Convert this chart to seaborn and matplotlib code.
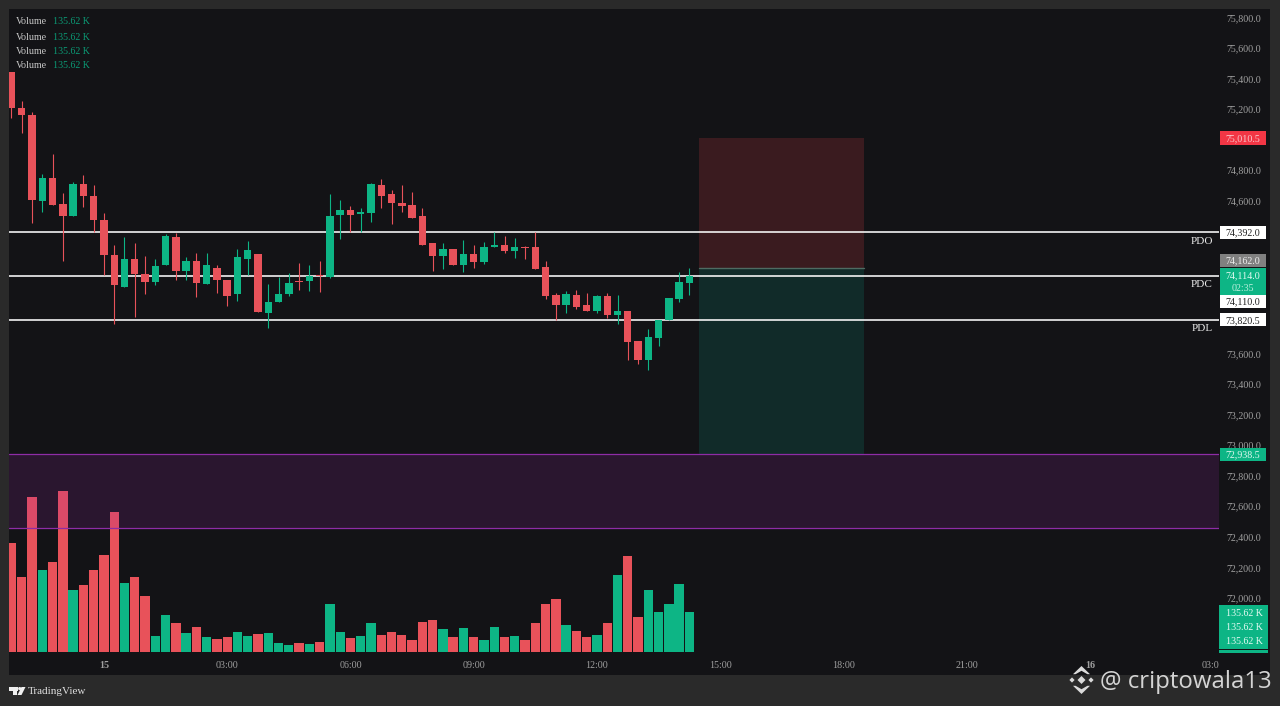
import matplotlib
matplotlib.use('Agg')
import matplotlib.pyplot as plt
import numpy as np
import pandas as pd
import seaborn as sns
from matplotlib.patches import Rectangle, Polygon, Circle

# 15 minute candles
opens = [75440, 75206, 75163, 74600, 74746, 74576, 74499, 74707, 74630, 74473, 74244, 74032, 74216, 74122, 74069, 74181, 74362,
         74139, 74207, 74052, 74161, 74082, 73989, 74218, 74248, 73862, 73936, 73989, 74071, 74076, 74111, 74100, 74506, 74541,
         74514, 74519, 74706, 74645, 74588, 74573, 74497, 74322, 74237, 74287, 74178, 74252, 74196, 74294, 74307, 74272, 74300,
         74296, 74165, 73980, 73916, 73980, 73916, 73879, 73975, 73849, 73877, 73681, 73558, 73702, 73816, 73956, 74058]
highs = [75440, 75252, 75180, 74772, 74907, 74650, 74722, 74770, 74700, 74519, 74307, 74362, 74322, 74235, 74220, 74384, 74388,
         74231, 74257, 74257, 74176, 74082, 74285, 74338, 74248, 74056, 74100, 74128, 74191, 74181, 74205, 74641, 74602, 74563,
         74554, 74715, 74743, 74671, 74706, 74654, 74554, 74322, 74322, 74287, 74340, 74309, 74329, 74396, 74368, 74357, 74305,
         74392, 74204, 73995, 74012, 74017, 73995, 73980, 73995, 73984, 73877, 73681, 73761, 73820, 73960, 74132, 74161]
lows = [75143, 75043, 74456, 74525, 74573, 74202, 74499, 74558, 74392, 74111, 73794, 74032, 73838, 73986, 74045, 74181, 74078,
        74082, 73969, 74052, 73997, 73908, 73943, 74111, 73873, 73768, 73936, 73973, 74013, 74008, 74002, 74095, 74351, 74392,
        74392, 74460, 74549, 74449, 74525, 74490, 74307, 74139, 74154, 74178, 74130, 74161, 74187, 74294, 74259, 74224, 74217,
        74156, 73956, 73822, 73868, 73890, 73879, 73866, 73829, 73794, 73554, 73528, 73489, 73646, 73816, 73936, 73980]
closes = [75204, 75158, 74604, 74746, 74573, 74499, 74707, 74628, 74471, 74244, 74047, 74216, 74117, 74069, 74170, 74366, 74139,
          74207, 74061, 74181, 74080, 73975, 74233, 74274, 73873, 73938, 73991, 74063, 74067, 74104, 74104, 74501, 74541, 74506,
          74523, 74709, 74634, 74588, 74567, 74490, 74307, 74235, 74281, 74178, 74252, 74196, 74300, 74307, 74272, 74300, 74289,
          74156, 73973, 73916, 73988, 73905, 73879, 73975, 73849, 73877, 73676, 73558, 73707, 73816, 73960, 74065, 74104]
volumes = [365.8, 253.4, 521.6, 275.9, 301.8, 540.8, 208.6, 224.4, 274.9, 325.4, 470.1, 231.2, 251.4, 188.4, 54.8, 125.5, 98.6,
           62.9, 83.1, 51.5, 43.7, 49.5, 66.3, 53.8, 59.6, 63.9, 30.3, 22.5, 30.3, 26.9, 32.6, 160.5, 66.3, 46.1,
           53.8, 97.6, 58.2, 67.3, 56.2, 41.4, 102.0, 108.7, 78.4, 51.5, 81.8, 51.5, 41.4, 85.1, 51.5, 54.8, 39.4,
           97.6, 161.5, 179.4, 91.9, 69.7, 51.5, 56.2, 97.6, 258.1, 322.0, 117.8, 207.6, 135.6, 161.5, 229.8, 135.6]

# the labels 75,000 74,400 74,200 74,000 and 73,800 sit behind price tags in the reference
price_ticks = [72000, 72200, 72400, 72600, 72800, 73000, 73200, 73400, 73600, 74600, 74800, 75200, 75400, 75600, 75800]
time_ticks = [9, 21, 33, 45, 57, 69, 81, 93, 105, 116.7]
time_labels = ['15', '03:00', '06:00', '09:00', '12:00', '15:00', '18:00', '21:00', '16', '03:0']
date_labels = ['15', '16']

pdo, pdc, pdl = 74392.0, 74110.0, 73820.5
zone_top, zone_bottom = 72938.5, 72455.0
stop_price, entry_price = 75010.5, 74162.0
box_start, box_end = 66.9, 83.0

RED = '#E8525A'
GREEN = '#0DB585'
PANEL = '#131316'
OUTER = '#2A2A2A'
SERIF = 'Liberation Serif'

sns.set_theme(style='dark', rc={'axes.facecolor': PANEL, 'figure.facecolor': OUTER, 'axes.linewidth': 0})

df = pd.DataFrame({'bar': np.arange(len(opens)), 'open': opens, 'high': highs, 'low': lows, 'close': closes, 'volume': volumes})
df['side'] = np.where(df['close'] >= df['open'], 'up', 'down')

fig = plt.figure(figsize=(12.8, 7.06), dpi=100)

def pane(x0, y0, x1, y1):
    return [x0 / 1280, 1 - y1 / 706, (x1 - x0) / 1280, (y1 - y0) / 706]

back = fig.add_axes(pane(9, 9, 1270, 675), zorder=0)
back.set_axis_off()
back.add_patch(Rectangle((0, 0), 1, 1, transform=back.transAxes, color=PANEL))

# volume sits under everything else
ax_vol = fig.add_axes(pane(9, 9, 1219, 653), zorder=1)
sns.barplot(data=df, x='bar', y='volume', hue='side', palette={'up': GREEN, 'down': RED}, dodge=False,
            width=0.91, saturation=1, legend=False, linewidth=0, ax=ax_vol)
ax_vol.set_xlim(-0.243, 117.56)
ax_vol.set_ylim(-3.4, 2160)
ax_vol.set_xticks([])
ax_vol.set_yticks([])
ax_vol.set_xlabel('')
ax_vol.set_ylabel('')
sns.despine(ax=ax_vol, left=True, bottom=True)

ax = fig.add_axes(pane(9, 9, 1219, 653), zorder=2)
ax.patch.set_visible(False)
ax.set_xlim(-0.243, 117.56)
ax.set_ylim(71639, 75855)
sns.despine(ax=ax, left=True, bottom=True)

# purple zone, tints the volume bars below it
ax.axhspan(zone_bottom, zone_top, color='#9C27B0', alpha=0.17, lw=0, zorder=1)
ax.axhline(zone_top, color='#8E2CA6', lw=0.9, zorder=2)
ax.axhline(zone_bottom, color='#8E2CA6', lw=0.9, zorder=2)

# long position box
ax.add_patch(Rectangle((box_start, entry_price), box_end - box_start, stop_price - entry_price, color='#3A1B1F', lw=0, zorder=1))
ax.add_patch(Rectangle((box_start, zone_top), box_end - box_start, entry_price - zone_top, color='#112B29', lw=0, zorder=1))
ax.plot([box_start, box_end], [entry_price, entry_price], color='#4F6B62', lw=1, zorder=1.5)

for level in [pdo, pdc, pdl]:
    ax.axhline(level, color='#F2F2F2', lw=1.2, zorder=2)
for level, name in [(pdo, 'PDO'), (pdc, 'PDC'), (pdl, 'PDL')]:
    ax.text(0.995, level - 60, name, transform=ax.get_yaxis_transform(), ha='right', va='center',
            color='#EDEDED', fontsize=8, family=SERIF)

colors = df['side'].map({'up': GREEN, 'down': RED})
ax.vlines(df['bar'], df['low'], df['high'], colors=colors, lw=0.8, zorder=3)
ax.bar(df['bar'], (df['close'] - df['open']).abs().clip(lower=10), bottom=df[['open', 'close']].min(axis=1),
       width=0.72, color=colors, lw=0, zorder=4)

ax.yaxis.tick_right()
ax.set_yticks(price_ticks)
ax.set_yticklabels([f'{p:,.1f}' for p in price_ticks], family=SERIF, fontsize=7.2, color='#A0A0A0')
ax.set_xticks(time_ticks)
ax.set_xticklabels(time_labels, family=SERIF, fontsize=7.2, color='#A0A0A0')
for lab in ax.get_xticklabels():
    if lab.get_text() in date_labels:
        lab.set_fontweight('bold')
ax.tick_params(axis='y', length=0, pad=5)
ax.tick_params(axis='x', length=0, pad=6)

# price tags on the right scale, moved apart where they would collide, as TradingView does
def tag(center, height, bg, text=None, fg='#202020', text_price=None, right=1.0388):
    trans = ax.get_yaxis_transform()
    ax.add_patch(Rectangle((1.0008, center - height / 2), right - 1.0008, height, transform=trans,
                           facecolor=bg, lw=0, clip_on=False, zorder=6))
    if text:
        ax.text(1.0198, (center if text_price is None else text_price) - 4, text, transform=trans, ha='center', va='center',
                color=fg, fontsize=7.2, family=SERIF, clip_on=False, zorder=7)

tag(stop_price, 88, '#F23645', '75,010.5', '#F9C9CE')
tag(pdo, 85, '#FFFFFF', '74,392.0')
tag(74209, 85, '#808080', '74,162.0', '#EFEFEF')
tag(74068, 177, GREEN, '74,114.0', '#E4FBF3', text_price=74114)
ax.text(1.0198, 74028, '02:35', transform=ax.get_yaxis_transform(), ha='center', va='center',
        color='#BDF0DE', fontsize=7.2, family=SERIF, zorder=7)
tag(73940, 88, '#FFFFFF', '74,110.0')
tag(pdl, 88, '#FFFFFF', '73,820.5')
tag(zone_top, 85, GREEN, '72,938.5', '#DFF7EF')

# everything else is placed in plain pixels
ov = fig.add_axes([0, 0, 1, 1], zorder=10)
ov.set_xlim(0, 1280)
ov.set_ylim(706, 0)
ov.set_axis_off()
ov.patch.set_visible(False)

for y in [22, 37, 51, 65]:
    ov.text(16, y, 'Volume', color='#C8C8C8', fontsize=7.2, family=SERIF, va='center')
    ov.text(53, y, '135.62 K', color='#0B9A75', fontsize=7.2, family=SERIF, va='center')

ov.add_patch(Rectangle((1219, 605), 49, 44, color=GREEN, lw=0))
ov.add_patch(Rectangle((1219, 650), 49, 2.5, color=GREEN, lw=0))
for y in [613, 628, 642]:
    ov.text(1244, y, '135.62 K', color='#E4FBF3', fontsize=7.2, family=SERIF, ha='center', va='center')

# TradingView mark
ov.add_patch(Rectangle((9, 687), 9, 3.5, color='#F0F0F0', lw=0))
ov.add_patch(Rectangle((12.5, 687), 4, 8, color='#F0F0F0', lw=0))
ov.add_patch(Circle((19.7, 688.6), 1.6, color='#F0F0F0', lw=0))
ov.add_patch(Polygon([(21.5, 687), (25.5, 687), (21.5, 695), (17.5, 695)], color='#F0F0F0', lw=0))
ov.text(28, 691.5, 'TradingView', color='#E0E0E0', fontsize=8, family=SERIF, va='center')

# Binance mark next to the watermark
def diamond(cx, cy, r):
    ov.add_patch(Polygon([(cx - r, cy), (cx, cy - r), (cx + r, cy), (cx, cy + r)], color='#DADADA', lw=0))

diamond(1081.5, 680, 4)
diamond(1072, 680, 2.6)
diamond(1091, 680, 2.6)
for sgn in [-1, 1]:
    ov.add_patch(Polygon([(1081.5, 680 + sgn * 14), (1090, 680 + sgn * 5.8), (1087.4, 680 + sgn * 5.8),
                          (1081.5, 680 + sgn * 9.2), (1075.6, 680 + sgn * 5.8), (1073, 680 + sgn * 5.8)],
                         color='#DADADA', lw=0))
ov.text(1100, 682, '@ criptowala13', color='#D4D4D4', fontsize=17.3, family='Open Sans', va='center')

fig.savefig('out.png', dpi=100, facecolor=fig.get_facecolor())
